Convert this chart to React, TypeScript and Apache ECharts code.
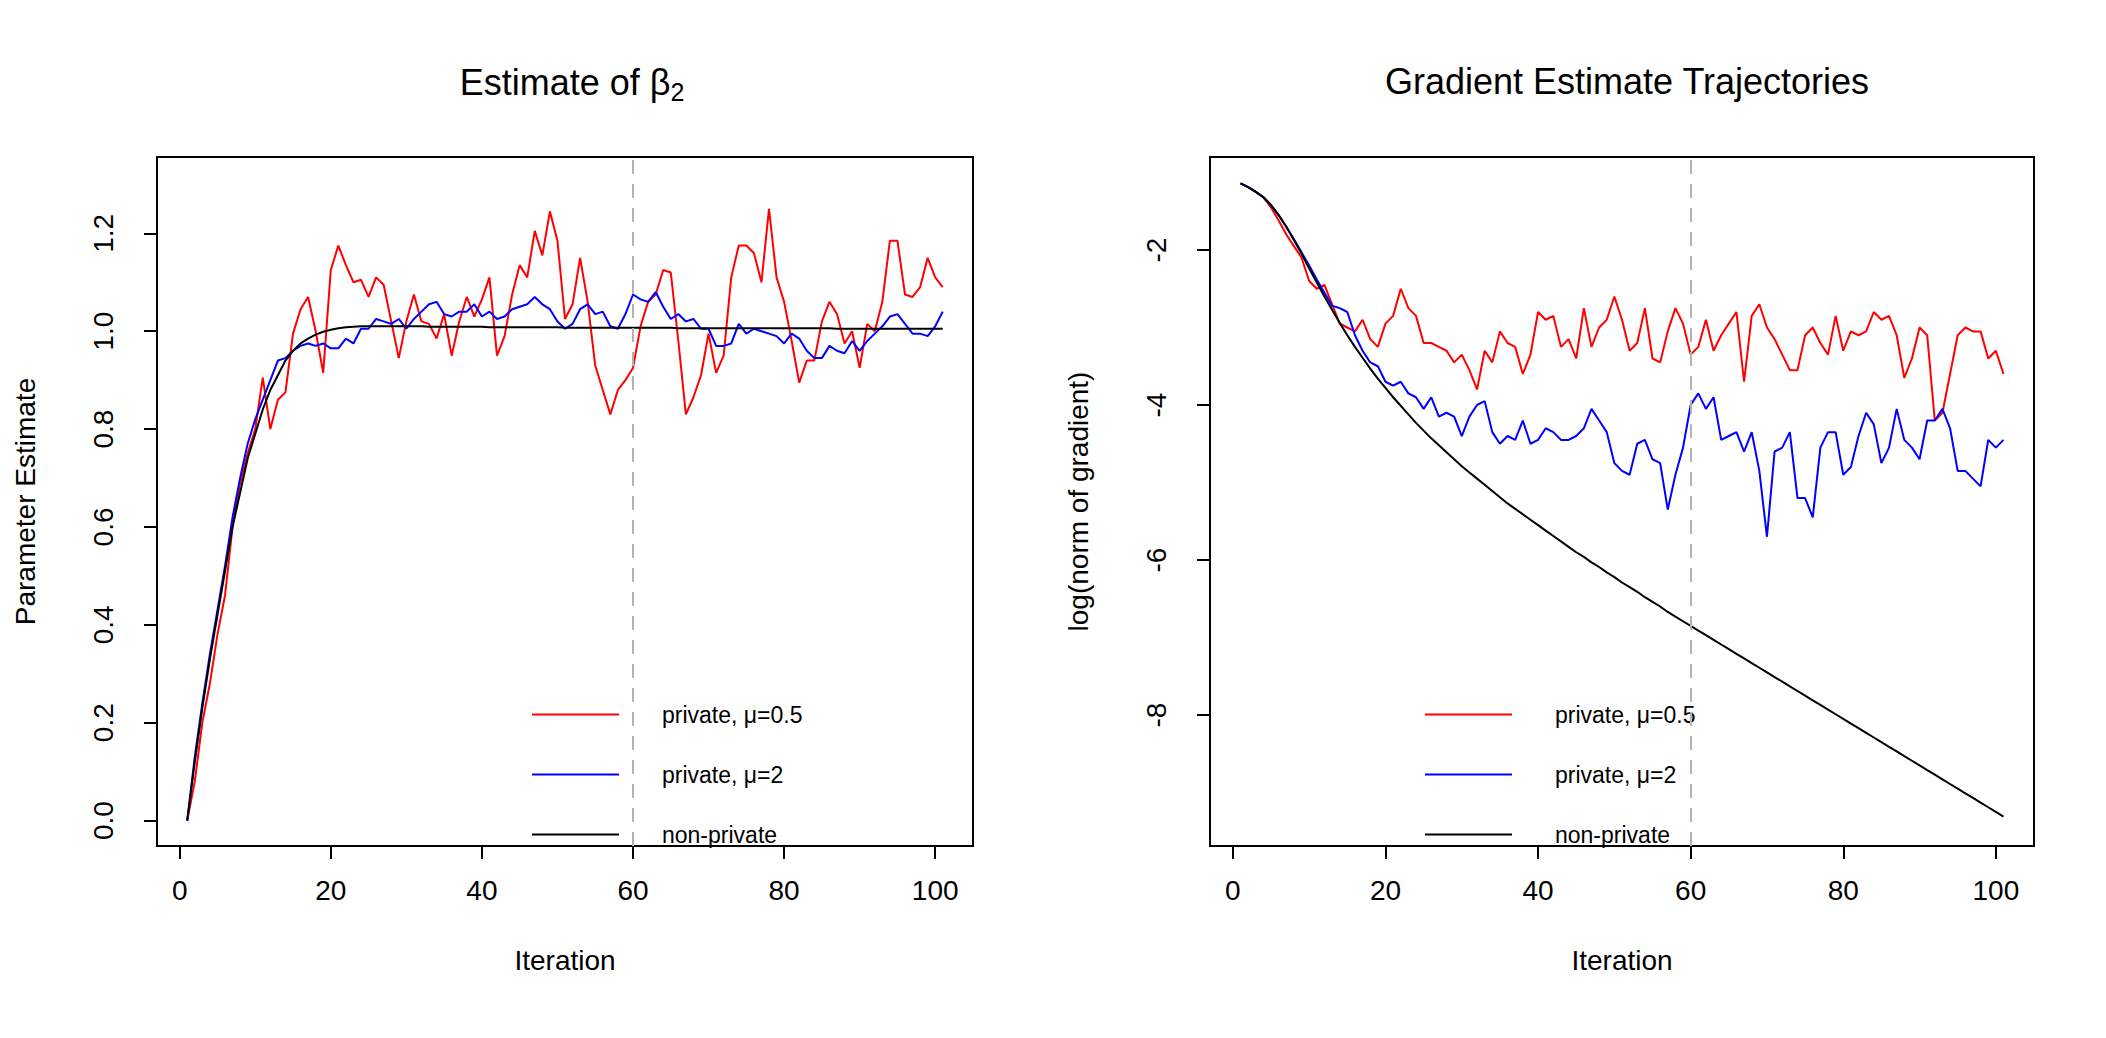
import { useEffect, useRef } from "react";
import * as echarts from "echarts";

const iterations = Array.from({ length: 101 }, (_, i) => i + 1);
const xTicks = [0, 20, 40, 60, 80, 100];
const leftYTicks = [0, 0.2, 0.4, 0.6, 0.8, 1.0, 1.2];
const rightYTicks = [-8, -6, -4, -2];

// Estimate of beta_2
const betaPrivate05 = [
  0, 0.08, 0.2, 0.28, 0.38, 0.46, 0.6, 0.69, 0.75, 0.8,
  0.905, 0.8, 0.86, 0.875, 0.995, 1.045, 1.07, 1.0, 0.915, 1.125,
  1.175, 1.135, 1.1, 1.105, 1.07, 1.11, 1.095, 1.02, 0.945, 1.02,
  1.075, 1.02, 1.015, 0.985, 1.035, 0.95, 1.02, 1.07, 1.03, 1.065,
  1.11, 0.95, 0.99, 1.075, 1.135, 1.11, 1.205, 1.155, 1.245, 1.185,
  1.025, 1.055, 1.15, 1.06, 0.93, 0.88, 0.83, 0.88, 0.9, 0.925,
  1.01, 1.06, 1.075, 1.125, 1.12, 0.98, 0.83, 0.865, 0.91, 0.995,
  0.915, 0.95, 1.11, 1.175, 1.175, 1.16, 1.1, 1.25, 1.11, 1.06,
  0.98, 0.895, 0.94, 0.94, 1.02, 1.06, 1.035, 0.975, 1.0, 0.925,
  1.015, 1.0, 1.06, 1.185, 1.185, 1.075, 1.07, 1.09, 1.15, 1.11, 1.09,
];
const betaPrivate2 = [
  0, 0.13, 0.24, 0.34, 0.43, 0.52, 0.62, 0.7, 0.77, 0.82,
  0.86, 0.9, 0.94, 0.945, 0.96, 0.97, 0.975, 0.97, 0.975, 0.965,
  0.965, 0.985, 0.975, 1.005, 1.005, 1.025, 1.02, 1.015, 1.025, 1.005,
  1.025, 1.04, 1.055, 1.06, 1.035, 1.03, 1.04, 1.04, 1.055, 1.03,
  1.04, 1.025, 1.03, 1.045, 1.05, 1.055, 1.07, 1.055, 1.045, 1.02,
  1.005, 1.015, 1.045, 1.055, 1.035, 1.04, 1.01, 1.005, 1.035, 1.075,
  1.065, 1.06, 1.08, 1.05, 1.025, 1.035, 1.02, 1.025, 1.005, 1.005,
  0.97, 0.97, 0.975, 1.015, 0.995, 1.005, 1.0, 0.995, 0.99, 0.975,
  0.995, 0.985, 0.96, 0.945, 0.945, 0.97, 0.96, 0.955, 0.98, 0.96,
  0.98, 0.995, 1.01, 1.03, 1.035, 1.015, 0.995, 0.995, 0.99, 1.01, 1.04,
];
const betaNonPrivate = [
  0, 0.12, 0.23, 0.33, 0.42, 0.51, 0.6, 0.67, 0.74, 0.79,
  0.84, 0.88, 0.91, 0.94, 0.96, 0.975, 0.985, 0.993, 0.999, 1.003,
  1.006, 1.008, 1.009, 1.01, 1.01, 1.01, 1.01, 1.01, 1.01, 1.01,
  1.01, 1.01, 1.009, 1.009, 1.009, 1.009, 1.009, 1.009, 1.009, 1.009,
  1.008, 1.008, 1.008, 1.008, 1.008, 1.008, 1.008, 1.008, 1.008, 1.008,
  1.007, 1.007, 1.007, 1.007, 1.007, 1.007, 1.007, 1.007, 1.007, 1.007,
  1.007, 1.007, 1.007, 1.007, 1.007, 1.006, 1.006, 1.006, 1.006, 1.006,
  1.006, 1.006, 1.006, 1.006, 1.006, 1.006, 1.006, 1.006, 1.006, 1.006,
  1.006, 1.006, 1.006, 1.006, 1.006, 1.006, 1.005, 1.005, 1.005, 1.005,
  1.005, 1.005, 1.005, 1.005, 1.005, 1.005, 1.005, 1.005, 1.005, 1.005, 1.005,
];

// log(norm of gradient)
const gradPrivate05 = [
  -1.14, -1.19, -1.25, -1.32, -1.45, -1.62, -1.8, -1.95, -2.1, -2.4,
  -2.5, -2.45, -2.7, -2.95, -3.0, -3.05, -2.9, -3.15, -3.25, -2.95,
  -2.85, -2.5, -2.75, -2.85, -3.2, -3.2, -3.25, -3.3, -3.45, -3.35,
  -3.55, -3.8, -3.3, -3.45, -3.05, -3.2, -3.25, -3.6, -3.35, -2.8,
  -2.9, -2.85, -3.25, -3.15, -3.4, -2.75, -3.25, -3.0, -2.9, -2.6,
  -2.9, -3.3, -3.2, -2.75, -3.4, -3.45, -3.05, -2.75, -2.95, -3.35,
  -3.25, -2.9, -3.3, -3.1, -2.95, -2.8, -3.7, -2.85, -2.7, -3.0,
  -3.15, -3.35, -3.55, -3.55, -3.1, -3.0, -3.2, -3.35, -2.85, -3.3,
  -3.05, -3.1, -3.05, -2.8, -2.9, -2.85, -3.1, -3.65, -3.4, -3.0,
  -3.1, -4.2, -4.1, -3.6, -3.1, -3.0, -3.05, -3.05, -3.4, -3.3, -3.6,
];
const gradPrivate2 = [
  -1.14, -1.19, -1.25, -1.32, -1.42, -1.55, -1.7, -1.86, -2.03, -2.2,
  -2.38, -2.55, -2.72, -2.75, -2.8, -3.1, -3.3, -3.45, -3.5, -3.7,
  -3.75, -3.7, -3.85, -3.9, -4.05, -3.9, -4.15, -4.1, -4.15, -4.4,
  -4.15, -4.0, -3.95, -4.35, -4.5, -4.4, -4.45, -4.2, -4.5, -4.45,
  -4.3, -4.35, -4.45, -4.45, -4.4, -4.3, -4.05, -4.2, -4.35, -4.75,
  -4.85, -4.9, -4.5, -4.45, -4.7, -4.75, -5.35, -4.9, -4.55, -4.0,
  -3.85, -4.05, -3.9, -4.45, -4.4, -4.35, -4.6, -4.35, -4.85, -5.7,
  -4.6, -4.55, -4.35, -5.2, -5.2, -5.45, -4.55, -4.35, -4.35, -4.9,
  -4.8, -4.4, -4.1, -4.25, -4.75, -4.55, -4.05, -4.45, -4.55, -4.7,
  -4.2, -4.2, -4.05, -4.3, -4.85, -4.85, -4.95, -5.05, -4.45, -4.55, -4.45,
];
const gradNonPrivate = [
  -1.14, -1.19, -1.25, -1.32, -1.42, -1.55, -1.7, -1.87, -2.05, -2.24,
  -2.42, -2.6, -2.77, -2.94, -3.1, -3.25, -3.39, -3.53, -3.66, -3.78,
  -3.9, -4.01, -4.12, -4.23, -4.33, -4.43, -4.52, -4.61, -4.7, -4.79,
  -4.87, -4.95, -5.03, -5.11, -5.19, -5.27, -5.34, -5.41, -5.48, -5.55,
  -5.62, -5.69, -5.76, -5.83, -5.9, -5.96, -6.03, -6.09, -6.16, -6.22,
  -6.29, -6.35, -6.41, -6.48, -6.54, -6.6, -6.67, -6.73, -6.79, -6.85,
  -6.91, -6.97, -7.03, -7.09, -7.15, -7.21, -7.27, -7.33, -7.39, -7.45,
  -7.51, -7.57, -7.63, -7.69, -7.75, -7.81, -7.87, -7.93, -7.99, -8.05,
  -8.11, -8.17, -8.23, -8.29, -8.35, -8.41, -8.47, -8.53, -8.59, -8.65,
  -8.71, -8.77, -8.83, -8.89, -8.95, -9.01, -9.07, -9.13, -9.19, -9.25, -9.31,
];

const FONT = "Liberation Sans, Arial, sans-serif";
const NAME05 = "private, μ=0.5";
const NAME2 = "private, μ=2";
const NAMENP = "non-private";

const pairs = (ys: number[]) => iterations.map((x, i) => [x, ys[i]]);

function xAxisFor(gridIndex: number) {
  return {
    type: "value",
    gridIndex,
    min: -3,
    max: 105,
    name: "Iteration",
    nameLocation: "middle",
    nameGap: 100,
    nameTextStyle: { fontFamily: FONT, fontSize: 28, color: "#000" },
    axisLine: { show: false, onZero: false },
    splitLine: { show: false },
    axisTick: {
      show: true,
      customValues: xTicks,
      length: 13,
      lineStyle: { color: "#000", width: 2 },
    },
    axisLabel: {
      customValues: xTicks,
      margin: 30,
      fontFamily: FONT,
      fontSize: 28,
      color: "#000",
    },
  };
}

function yAxisFor(gridIndex: number, min: number, max: number, ticks: number[], name: string, fmt: (v: number) => string) {
  return {
    type: "value",
    gridIndex,
    min,
    max,
    name,
    nameLocation: "middle",
    nameGap: 118,
    nameTextStyle: { fontFamily: FONT, fontSize: 28, color: "#000" },
    axisLine: { show: false, onZero: false },
    splitLine: { show: false },
    axisTick: {
      show: true,
      customValues: ticks,
      length: 13,
      lineStyle: { color: "#000", width: 2 },
    },
    axisLabel: {
      customValues: ticks,
      rotate: 90,
      margin: 40,
      fontFamily: FONT,
      fontSize: 28,
      color: "#000",
      formatter: (v: number) => fmt(v),
    },
  };
}

function line(name: string, color: string, idx: number, ys: number[], width: number) {
  return {
    type: "line",
    name,
    xAxisIndex: idx,
    yAxisIndex: idx,
    data: pairs(ys),
    showSymbol: false,
    symbol: "none",
    lineStyle: { color, width },
    itemStyle: { color },
  };
}

const dashed = {
  silent: true,
  symbol: "none",
  label: { show: false },
  lineStyle: { color: "#b3b3b3", type: [14, 10], width: 2 },
  data: [{ xAxis: 60 }],
};

function legendAt(left: number) {
  return {
    orient: "vertical",
    left,
    top: 698,
    icon: "rect",
    itemWidth: 87,
    itemHeight: 2,
    itemGap: 37,
    data: [NAME05, NAME2, NAMENP],
    textStyle: { fontFamily: FONT, fontSize: 23, color: "#000", padding: [0, 0, 0, 38], lineHeight: 14 },
    selectedMode: false,
  };
}

export default function App() {
  const ref = useRef<HTMLDivElement>(null);

  useEffect(() => {
    if (!ref.current) return;
    const chart = echarts.init(ref.current, null, { renderer: "svg" });
    const leftSeries05 = line(NAME05, "#ff0000", 0, betaPrivate05, 2);
    const rightSeries05 = line(NAME05, "#ff0000", 1, gradPrivate05, 2);
    chart.setOption({
      animation: false,
      backgroundColor: "#fff",
      title: [
        {
          text: "Estimate of {b|β}{s|2}",
          left: 567,
          top: 56,
          textAlign: "center",
          textStyle: {
            fontFamily: FONT,
            fontSize: 36,
            fontWeight: "normal",
            color: "#000",
            rich: {
              b: { fontFamily: FONT, fontSize: 36, color: "#000" },
              s: { fontFamily: FONT, fontSize: 25, color: "#000", padding: [18, 0, 0, 0] },
            },
          },
        },
        {
          text: "Gradient Estimate Trajectories",
          left: 1622,
          top: 58,
          textAlign: "center",
          textStyle: { fontFamily: FONT, fontSize: 36, fontWeight: "normal", color: "#000" },
        },
      ],
      legend: [legendAt(527), legendAt(1420)],
      grid: [
        { left: 157, top: 157, width: 816, height: 689, show: true, borderColor: "#000", borderWidth: 2, backgroundColor: "transparent" },
        { left: 1210, top: 157, width: 824, height: 689, show: true, borderColor: "#000", borderWidth: 2, backgroundColor: "transparent" },
      ],
      xAxis: [xAxisFor(0), xAxisFor(1)],
      yAxis: [
        yAxisFor(0, -0.052, 1.356, leftYTicks, "Parameter Estimate", (v) => v.toFixed(1)),
        yAxisFor(1, -9.69, -0.8, rightYTicks, "log(norm of gradient)", (v) => String(v)),
      ],
      series: [
        { ...leftSeries05, markLine: dashed },
        line(NAME2, "#0000ff", 0, betaPrivate2, 2),
        line(NAMENP, "#000000", 0, betaNonPrivate, 2),
        { ...rightSeries05, markLine: dashed },
        line(NAME2, "#0000ff", 1, gradPrivate2, 2),
        line(NAMENP, "#000000", 1, gradNonPrivate, 2),
      ],
    });
    return () => chart.dispose();
  }, []);

  return (
    <div
      ref={ref}
      style={{ position: "fixed", left: 0, top: 0, width: 2106, height: 1038, background: "#fff" }}
    />
  );
}
